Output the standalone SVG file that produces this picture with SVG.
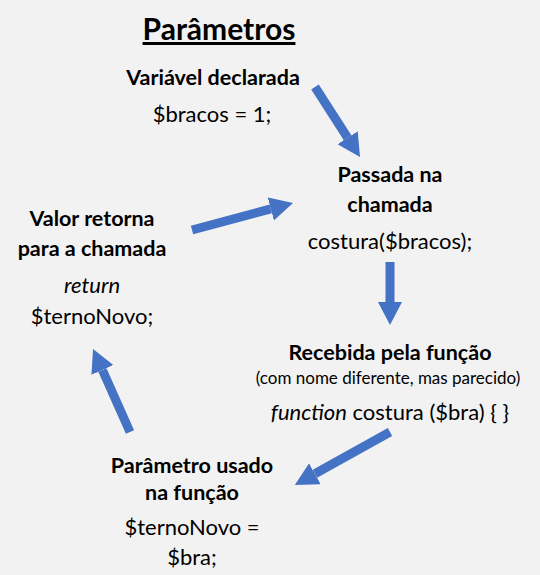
<svg xmlns="http://www.w3.org/2000/svg" width="540" height="575" viewBox="0 0 540 575">
<style>
text{font-family:Lato,"Open Sans","Liberation Sans",sans-serif;fill:#000;text-anchor:middle}
.h{font-weight:bold;font-size:21.5px}
.c{font-size:22px}
.s{font-size:17px}
.i{font-style:italic}
.t{font-weight:bold;font-size:30px;text-decoration:underline}
.arr{stroke:#4472C4;stroke-width:9;fill:none;marker-end:url(#ah)}
</style>
<defs>
<marker id="ah" markerUnits="userSpaceOnUse" markerWidth="23" markerHeight="24" refX="0" refY="12" orient="auto">
<path d="M0,0 L23,12 L0,24 z" fill="#4472C4"/>
</marker>
</defs>
<rect width="540" height="575" fill="#F2F2F2"/>
<g id="title"><text class="t" x="219" y="40">Parâmetros</text></g>
<g id="n1">
<text class="h" x="213" y="85">Variável declarada</text>
<text class="c" x="212" y="122">$bracos = 1;</text>
</g>
<g id="n2">
<text class="h" x="390" y="182">Passada na</text>
<text class="h" x="390" y="212">chamada</text>
<text class="c" x="390" y="249">costura($bracos);</text>
</g>
<g id="n3">
<text class="h" x="390" y="360">Recebida pela função</text>
<text class="s" x="388" y="384">(com nome diferente, mas parecido)</text>
<text class="c" x="390" y="420"><tspan class="i">function</tspan> costura ($bra) { }</text>
</g>
<g id="n4">
<text class="h" x="192" y="473">Parâmetro usado</text>
<text class="h" x="192" y="500">na função</text>
<text class="c" x="192" y="535">$ternoNovo =</text>
<text class="c" x="192" y="565">$bra;</text>
</g>
<g id="n5">
<text class="h" x="92" y="226">Valor retorna</text>
<text class="h" x="92" y="256">para a chamada</text>
<text class="c i" x="92" y="293">return</text>
<text class="c" x="92" y="324">$ternoNovo;</text>
</g>
<g id="connectors">
<line class="arr" x1="315" y1="87" x2="347.6" y2="137.7"/>
<line class="arr" x1="390" y1="262" x2="390" y2="302"/>
<line class="arr" x1="192" y1="230" x2="270.8" y2="208.9"/>
<line class="arr" x1="390" y1="432" x2="314.9" y2="473.8"/>
<line class="arr" x1="130" y1="432" x2="102.4" y2="370"/>
</g>
</svg>
